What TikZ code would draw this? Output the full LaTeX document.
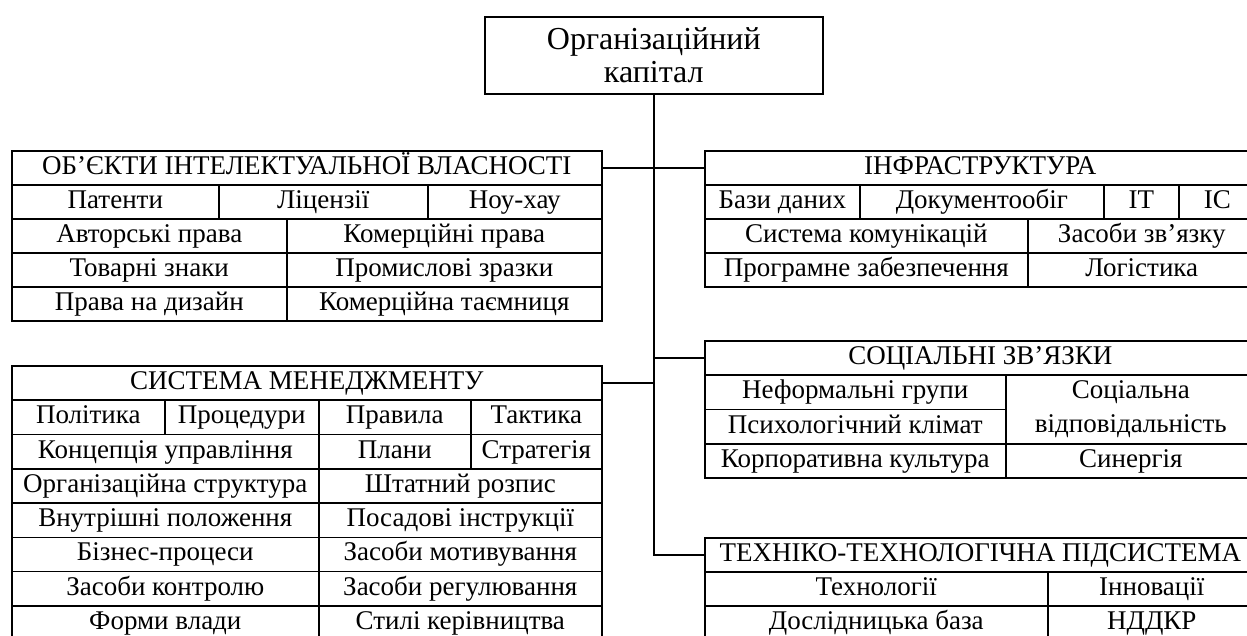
\documentclass[tikz,border=0pt]{standalone}
\usepackage{fontspec}
\setmainfont{Liberation Serif}
\begin{document}
\begin{tikzpicture}[x=1pt,y=-1pt,
  cell/.style={draw, line width=1.6pt, inner sep=0pt, align=center,
    font=\fontsize{27}{33}\selectfont, text height=18.5pt, text depth=5.5pt,
    anchor=north west},
  cellmulti/.style={draw, line width=1.6pt, inner sep=0pt, align=center,
    font=\fontsize{27}{34}\selectfont, anchor=north west},
  titlebox/.style={draw, line width=1.6pt, inner sep=0pt, align=center,
    font=\fontsize{32}{33}\selectfont, anchor=north west},
  link/.style={line width=1.6pt}]
\useasboundingbox (0,0) rectangle (1247,635);
% \cell{name}{x1}{y1}{x2}{y2}{text}
\newcommand\cell[6]{\node[cell, minimum width={#4-#2}, minimum height={#5-#3}] (#1) at (#2,#3) {#6};}

% root
\node[titlebox, minimum width=338, minimum height=77] (root) at (484,16) {Організаційний\\капітал};

% intellectual property
\cell{oiv}{11}{150}{601}{184}{ОБ’ЄКТИ ІНТЕЛЕКТУАЛЬНОЇ ВЛАСНОСТІ}
\cell{oiv21}{11}{184}{218}{218}{Патенти}
\cell{oiv22}{218}{184}{427}{218}{Ліцензії}
\cell{oiv23}{427}{184}{601}{218}{Ноу-хау}
\cell{oiv31}{11}{218}{286}{252}{Авторські права}
\cell{oiv32}{286}{218}{601}{252}{Комерційні права}
\cell{oiv41}{11}{252}{286}{286}{Товарні знаки}
\cell{oiv42}{286}{252}{601}{286}{Промислові зразки}
\cell{oiv51}{11}{286}{286}{320}{Права на дизайн}
\cell{oiv52}{286}{286}{601}{320}{Комерційна таємниця}

% management system
\cell{sm}{11}{365}{601}{399.3}{СИСТЕМА МЕНЕДЖМЕНТУ}
\cell{sm21}{11}{399.3}{164}{433.6}{Політика}
\cell{sm22}{164}{399.3}{318}{433.6}{Процедури}
\cell{sm23}{318}{399.3}{470}{433.6}{Правила}
\cell{sm24}{470}{399.3}{601}{433.6}{Тактика}
\cell{sm31}{11}{433.6}{318}{467.9}{Концепція управління}
\cell{sm32}{318}{433.6}{470}{467.9}{Плани}
\cell{sm33}{470}{433.6}{601}{467.9}{Стратегія}
\cell{sm41}{11}{467.9}{318}{502.2}{Організаційна структура}
\cell{sm42}{318}{467.9}{601}{502.2}{Штатний розпис}
\cell{sm51}{11}{502.2}{318}{536.5}{Внутрішні положення}
\cell{sm52}{318}{502.2}{601}{536.5}{Посадові інструкції}
\cell{sm61}{11}{536.5}{318}{570.8}{Бізнес-процеси}
\cell{sm62}{318}{536.5}{601}{570.8}{Засоби мотивування}
\cell{sm71}{11}{570.8}{318}{605.1}{Засоби контролю}
\cell{sm72}{318}{570.8}{601}{605.1}{Засоби регулювання}
\cell{sm81}{11}{605.1}{318}{639.4}{Форми влади}
\cell{sm82}{318}{605.1}{601}{639.4}{Стилі керівництва}

% infrastructure
\cell{infra}{704}{150}{1255}{184}{ІНФРАСТРУКТУРА}
\cell{inf21}{704}{184}{859}{218}{Бази даних}
\cell{inf22}{859}{184}{1103}{218}{Документообіг}
\cell{inf23}{1103}{184}{1178}{218}{ІТ}
\cell{inf24}{1178}{184}{1255}{218}{ІС}
\cell{inf31}{704}{218}{1027}{252}{Система комунікацій}
\cell{inf32}{1027}{218}{1255}{252}{Засоби зв’язку}
\cell{inf41}{704}{252}{1027}{286}{Програмне забезпечення}
\cell{inf42}{1027}{252}{1255}{286}{Логістика}

% social ties
\cell{soc}{704}{340}{1255}{374}{СОЦІАЛЬНІ ЗВ’ЯЗКИ}
\cell{soc21}{704}{374}{1005}{408.5}{Неформальні групи}
\cell{soc31}{704}{408.5}{1005}{443}{Психологічний клімат}
\node[cellmulti, minimum width=250, minimum height=69] (soc22) at (1005,374) {Соціальна\\відповідальність};
\cell{soc41}{704}{443}{1005}{477}{Корпоративна культура}
\cell{soc42}{1005}{443}{1255}{477}{Синергія}

% technical and technological subsystem
\cell{tech}{704}{537}{1255}{571}{ТЕХНІКО-ТЕХНОЛОГІЧНА ПІДСИСТЕМА}
\cell{tech21}{704}{571}{1047}{605}{Технології}
\cell{tech22}{1047}{571}{1255}{605}{Інновації}
\cell{tech31}{704}{605}{1047}{639}{Дослідницька база}
\cell{tech32}{1047}{605}{1255}{639}{НДДКР}

% connectors
\draw[link] (root.south) |- (tech.west);
\draw[link] (oiv.east) -- (oiv.east -| root.south) -- (infra.west);
\draw[link] (sm.east) -- (sm.east -| root.south);
\draw[link] (soc.west -| root.south) -- (soc.west);
\end{tikzpicture}
\end{document}
